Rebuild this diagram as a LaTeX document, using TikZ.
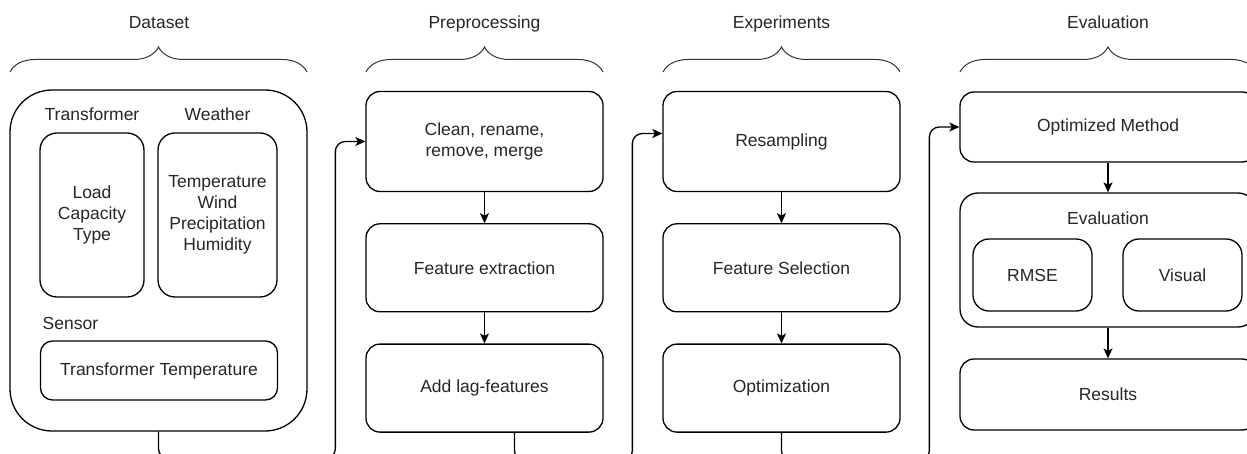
\documentclass[tikz,border=0pt]{standalone}
\usepackage{fontspec}
\setmainfont{Liberation Sans}
\usetikzlibrary{arrows.meta,positioning,calc,decorations.pathreplacing}

\begin{document}
\begin{tikzpicture}[x=1pt,y=-1pt,>={Stealth[length=10pt,width=9pt,inset=2.5pt]},
font=\fontsize{17.5}{21}\selectfont,line width=1.3pt,node distance=31pt,
block/.style={draw=black,rounded corners=14pt,align=center,inner sep=0pt,text=black!85,minimum width=237pt,minimum height=88pt},
inner/.style={block,rounded corners=16pt,minimum width=119pt,minimum height=72pt},
lbl/.style={inner sep=0pt,text=black!85,text height=12.5pt,text depth=3.5pt},
brace/.style={draw=black!80,line width=1pt,decorate,decoration={brace,amplitude=25pt}},
flow/.style={->,draw=black},
link/.style={flow,rounded corners=10pt}]
\useasboundingbox (0,0) rectangle (1247,454);
\clip (0,0) rectangle (1247,454);
% stage headings
\node[lbl] (hdata) at (159,24) {Dataset};
\node[lbl] (hprep) at (484.5,24) {Preprocessing};
\node[lbl] (hexp) at (781.5,24) {Experiments};
\node[lbl] (heval) at (1108,24) {Evaluation};
\draw[brace] (10,72) -- (307,72);
\draw[brace] (366,72) -- (603,72);
\draw[brace] (663,72) -- (900,72);
\draw[brace] (960,72) -- (1256,72);
% dataset
\node[block,minimum width=297pt,minimum height=341pt,rounded corners=42pt] (dataset) at (158.5,260.5) {};
\node[lbl] (ltransf) at (92,116) {Transformer};
\node[lbl] (lweather) at (217.5,116) {Weather};
\node[block,minimum width=104pt,minimum height=164pt,rounded corners=17pt] (transf) at (92,215) {Load\\Capacity\\Type};
\node[block,minimum width=119pt,minimum height=164pt,rounded corners=17pt] (weather) at (217.5,215)
{Temperature\\Wind\\Precipitation\\Humidity};
\node[lbl,anchor=west] (lsensor) at (42,325) {Sensor};
\node[block,minimum height=59pt,rounded corners=12pt] (sensor) at (159,370.5) {Transformer Temperature};
% preprocessing
\node[block,minimum height=100pt] (clean) at (484.5,141.5) {Clean, rename,\\remove, merge};
\node[block,below=31pt of clean] (extract) {Feature extraction};
\node[block,below=31pt of extract] (lag) {Add lag-features};
% experiments
\node[block,minimum height=100pt] (resamp) at (781.5,141.5) {Resampling};
\node[block,below=31pt of resamp] (select) {Feature Selection};
\node[block,below=31pt of select] (optim) {Optimization};
% evaluation
\node[block,minimum width=296pt,minimum height=70pt] (method) at (1108,127) {Optimized Method};
\node[block,minimum width=296pt,minimum height=134pt,rounded corners=18pt] (evalbox) at (1108,260) {};
\node[lbl] (levalbox) at (1108,220) {Evaluation};
\node[inner] (rmse) at (1032.5,275) {RMSE};
\node[inner] (visual) at (1182.5,275) {Visual};
\node[block,minimum width=296pt,minimum height=71pt] (results) at (1108,394.5) {Results};
\draw[flow] (clean) -- (extract);
\draw[flow] (extract) -- (lag);
\draw[flow] (resamp) -- (select);
\draw[flow] (select) -- (optim);
\draw[flow] (method) -- (evalbox);
\draw[flow] (evalbox) -- (results);
% links between stages
\draw[link] (dataset.south) -- ++(0,27) -| ($(clean.west)+(-30,0)$) -- (clean.west);
\draw[link] ($(lag.south)+(30,0)$) -- ++(0,28) -| ($(resamp.west)+(-30,-8)$) -- ($(resamp.west)+(0,-8)$);
\draw[link] (optim.south) -- ++(0,28) -| ($(method.west)+(-30,0)$) -- (method.west);
\end{tikzpicture}
\end{document}
